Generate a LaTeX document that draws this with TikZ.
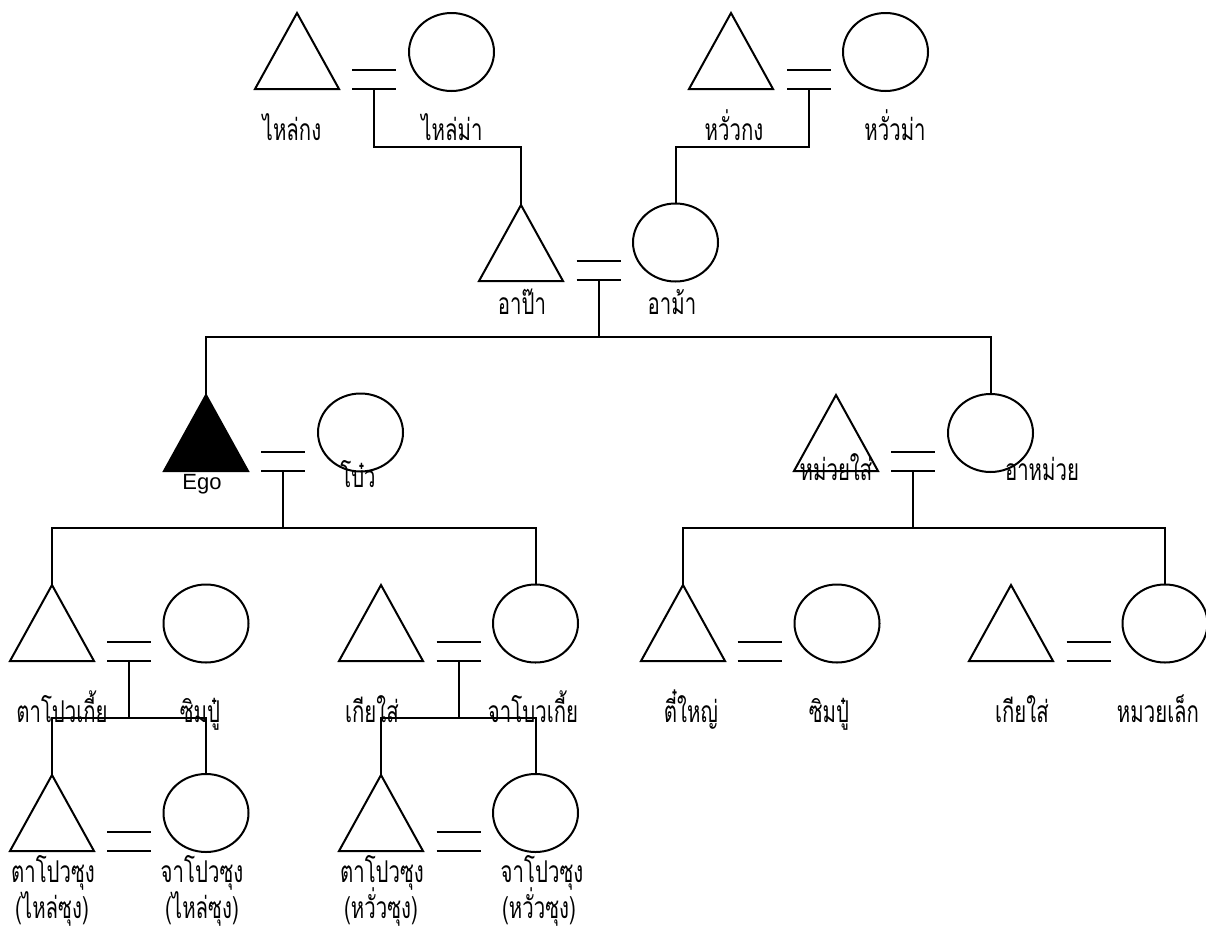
\documentclass[tikz,border=0pt]{standalone}
\usepackage{fontspec}
\usetikzlibrary{shapes.geometric}
\newfontfamily\thaifont[Script=Thai,FakeStretch=0.68]{Loma}
\newfontfamily\latfont{Liberation Sans}
\tikzset{
  ln/.style={line width=2pt},
  fem/.style={draw, ellipse, line width=2pt, minimum width=85pt, minimum height=78pt, inner sep=0pt},
  lbl/.style={anchor=base, inner sep=0pt, font=\thaifont\fontsize{30}{30}\selectfont},
  lat/.style={anchor=base, inner sep=0pt, font=\latfont\fontsize{22}{22}\selectfont},
  pics/male/.style={code={\draw[ln] (0,0) -- (-42,76) -- (42,76) -- cycle;}},
  pics/egom/.style={code={\draw[ln,fill=black] (0,0) -- (-42,76) -- (42,76) -- cycle;}},
  pics/marr/.style={code={\draw[ln] (-22,0) -- (22,0); \draw[ln] (-22,-19) -- (22,-19);}}
}
\begin{document}
\begin{tikzpicture}[x=1pt,y=-1pt]
\useasboundingbox (0,0) rectangle (1206,929);
% row 1
\coordinate (T1) at (297,13); \pic at (T1) {male};
\node[fem] (C1) at (451.5,52) {};
\coordinate (M1) at (374,89); \pic at (M1) {marr};
\coordinate (T2) at (731,13); \pic at (T2) {male};
\node[fem] (C2) at (885.5,52) {};
\coordinate (M2) at (809,89); \pic at (M2) {marr};
% row 2
\coordinate (T3) at (521,205); \pic at (T3) {male};
\node[fem] (C3) at (675.5,242.5) {};
\coordinate (M3) at (598.5,280); \pic at (M3) {marr};
% row 3
\coordinate (Ego) at (206,395); \pic at (Ego) {egom};
\node[fem] (C4) at (360.5,432.5) {};
\coordinate (M4) at (283,471); \pic at (M4) {marr};
\coordinate (T5) at (836,395); \pic at (T5) {male};
\node[fem] (C5) at (990.5,433) {};
\coordinate (M5) at (913,471); \pic at (M5) {marr};
% row 4
\coordinate (T6) at (52,585); \pic at (T6) {male};
\node[fem] (C6) at (206,623.5) {};
\coordinate (M6) at (129,661); \pic at (M6) {marr};
\coordinate (T7) at (381,585); \pic at (T7) {male};
\node[fem] (C7) at (535.5,623.5) {};
\coordinate (M7) at (458.5,661); \pic at (M7) {marr};
\coordinate (T8) at (683,585); \pic at (T8) {male};
\node[fem] (C8) at (837,623.5) {};
\coordinate (M8) at (759.5,661); \pic at (M8) {marr};
\coordinate (T9) at (1011,585); \pic at (T9) {male};
\node[fem] (C9) at (1165,623.5) {};
\coordinate (M9) at (1088.5,661); \pic at (M9) {marr};
% row 5
\coordinate (T10) at (52,775); \pic at (T10) {male};
\node[fem] (C10) at (206,813) {};
\coordinate (M10) at (129,851); \pic at (M10) {marr};
\coordinate (T11) at (381,775); \pic at (T11) {male};
\node[fem] (C11) at (535.5,813) {};
\coordinate (M11) at (458.5,851); \pic at (M11) {marr};
% sibling bars
\coordinate (B2) at (598.5,337);
\coordinate (B3) at (283,528);
\coordinate (B4) at (913,528);
\coordinate (B5) at (129,718);
\coordinate (B6) at (458.5,718);
% connectors
\draw[ln] (M1) -- ++(0,58) -| (T3);
\draw[ln] (M2) -- ++(0,58) -| (C3.north);
\draw[ln] (M3) -- (B2);
\draw[ln] (Ego) |- (B2) -| (C5.north);
\draw[ln] (M4) -- (B3);
\draw[ln] (T6) |- (B3) -| (C7.north);
\draw[ln] (M5) -- (B4);
\draw[ln] (T8) |- (B4) -| (C9.north);
\draw[ln] (M6) -- (B5);
\draw[ln] (T10) |- (B5) -| (C10.north);
\draw[ln] (M7) -- (B6);
\draw[ln] (T11) |- (B6) -| (C11.north);
% labels
\node[lbl] (L1) at (292,140) {ไหล่กง};
\node[lbl] (L2) at (452,140) {ไหล่ม่า};
\node[lbl] (L3) at (734,140) {หวั่วกง};
\node[lbl] (L4) at (895,140) {หวั่วม่า};
\node[lbl] (L5) at (522,314) {อาป๊า};
\node[lbl] (L6) at (672,314) {อาม้า};
\node[lat] (L7) at (202,489) {Ego};
\node[lbl] (L8) at (358,487) {โบ๋ว};
\node[lbl] (L9) at (836,480) {หม่วยใส่};
\node[lbl] (L10) at (1042,480) {อาหม่วย};
\node[lbl] (L11) at (62,722) {ตาโปวเกี้ย};
\node[lbl] (L12) at (200,722) {ซิมปู๋};
\node[lbl] (L13) at (372,722) {เกียใส่};
\node[lbl] (L14) at (533,722) {จาโบวเกี้ย};
\node[lbl] (L15) at (691,722) {ตี๋ใหญ่};
\node[lbl] (L16) at (829,722) {ซิมปู๋};
\node[lbl] (L17) at (1022,722) {เกียใส่};
\node[lbl] (L18) at (1158,722) {หมวยเล็ก};
\node[lbl] (L19) at (53,882) {ตาโปวซุง};
\node[lbl] (L20) at (52,918) {(ไหล่ซุง)};
\node[lbl] (L21) at (202,882) {จาโปวซุง};
\node[lbl] (L22) at (202,918) {(ไหล่ซุง)};
\node[lbl] (L23) at (382,882) {ตาโปวซุง};
\node[lbl] (L24) at (381,918) {(หวั่วซุง)};
\node[lbl] (L25) at (542,882) {จาโปวซุง};
\node[lbl] (L26) at (539,918) {(หวั่วซุง)};
\end{tikzpicture}
\end{document}
